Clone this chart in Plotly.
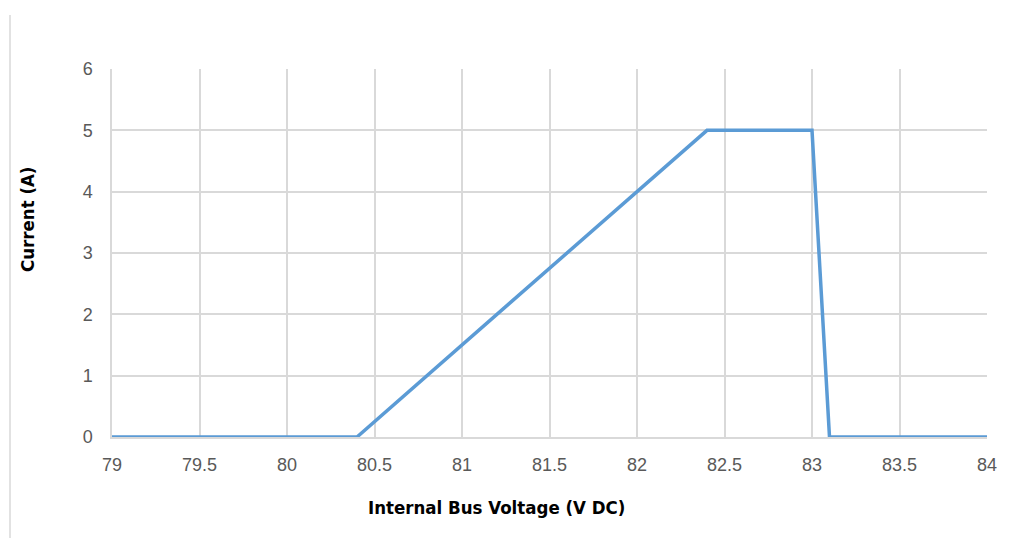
import plotly.graph_objects as go

voltage = [79, 80.4, 82.4, 83.0, 83.1, 84]
current = [0, 0, 5, 5, 0, 0]

x_ticks = [79, 79.5, 80, 80.5, 81, 81.5, 82, 82.5, 83, 83.5, 84]
y_ticks = [0, 1, 2, 3, 4, 5, 6]

x_title = "Internal Bus Voltage (V DC)"
y_title = "Current (A)"

OFF = 8  # default body margin of the page
W, H = 1022 - OFF, 538 - OFF
L, R, T, B = 112 - OFF, 35, 69 - OFF, 101

fig = go.Figure()
fig.add_trace(go.Scatter(
    x=voltage, y=current, mode="lines",
    line=dict(color="#5B9BD5", width=3.5),
    hoverinfo="x+y", showlegend=False,
))

pw = W - L - R
ph = H - T - B


def px_x(px):
    return (px - OFF - L) / pw


def px_y(py):
    return (H - B - (py - OFF)) / ph


lx = px_x(10)
fig.add_shape(type="line", xref="paper", yref="paper",
              x0=lx, x1=lx, y0=px_y(560), y1=px_y(15),
              line=dict(color="#D9D9D9", width=1.5))

title_font = dict(family="DejaVu Sans Condensed, DejaVu Sans", size=18.5, color="#000000", weight="bold")

fig.add_annotation(text=x_title, xref="paper", yref="paper",
                   x=px_x(496), y=px_y(507), xanchor="center", yanchor="middle",
                   showarrow=False, font=title_font)
fig.add_annotation(text=y_title, xref="paper", yref="paper",
                   x=px_x(27), y=px_y(220), xanchor="center", yanchor="middle",
                   textangle=-90, showarrow=False, font=title_font)

fig.update_layout(
    width=W, height=H,
    margin=dict(l=L, r=R, t=T, b=B),
    paper_bgcolor="white", plot_bgcolor="white",
    font=dict(family="Liberation Sans, Arial", size=18, color="#595959"),
    xaxis=dict(
        range=[79, 84], tickvals=x_ticks, ticktext=[str(v) for v in x_ticks],
        showgrid=True, gridcolor="#D9D9D9", gridwidth=1.5,
        zeroline=False, showline=True, linecolor="#D9D9D9", linewidth=1.5,
        ticks="", ticklabelstandoff=11,
    ),
    yaxis=dict(
        range=[0, 6], tickvals=y_ticks,
        showgrid=True, gridcolor="#D9D9D9", gridwidth=1.5,
        zeroline=False, showline=True, linecolor="#D9D9D9", linewidth=1.5,
        ticks="", ticklabelstandoff=14,
    ),
)

fig.write_html("out.html")
